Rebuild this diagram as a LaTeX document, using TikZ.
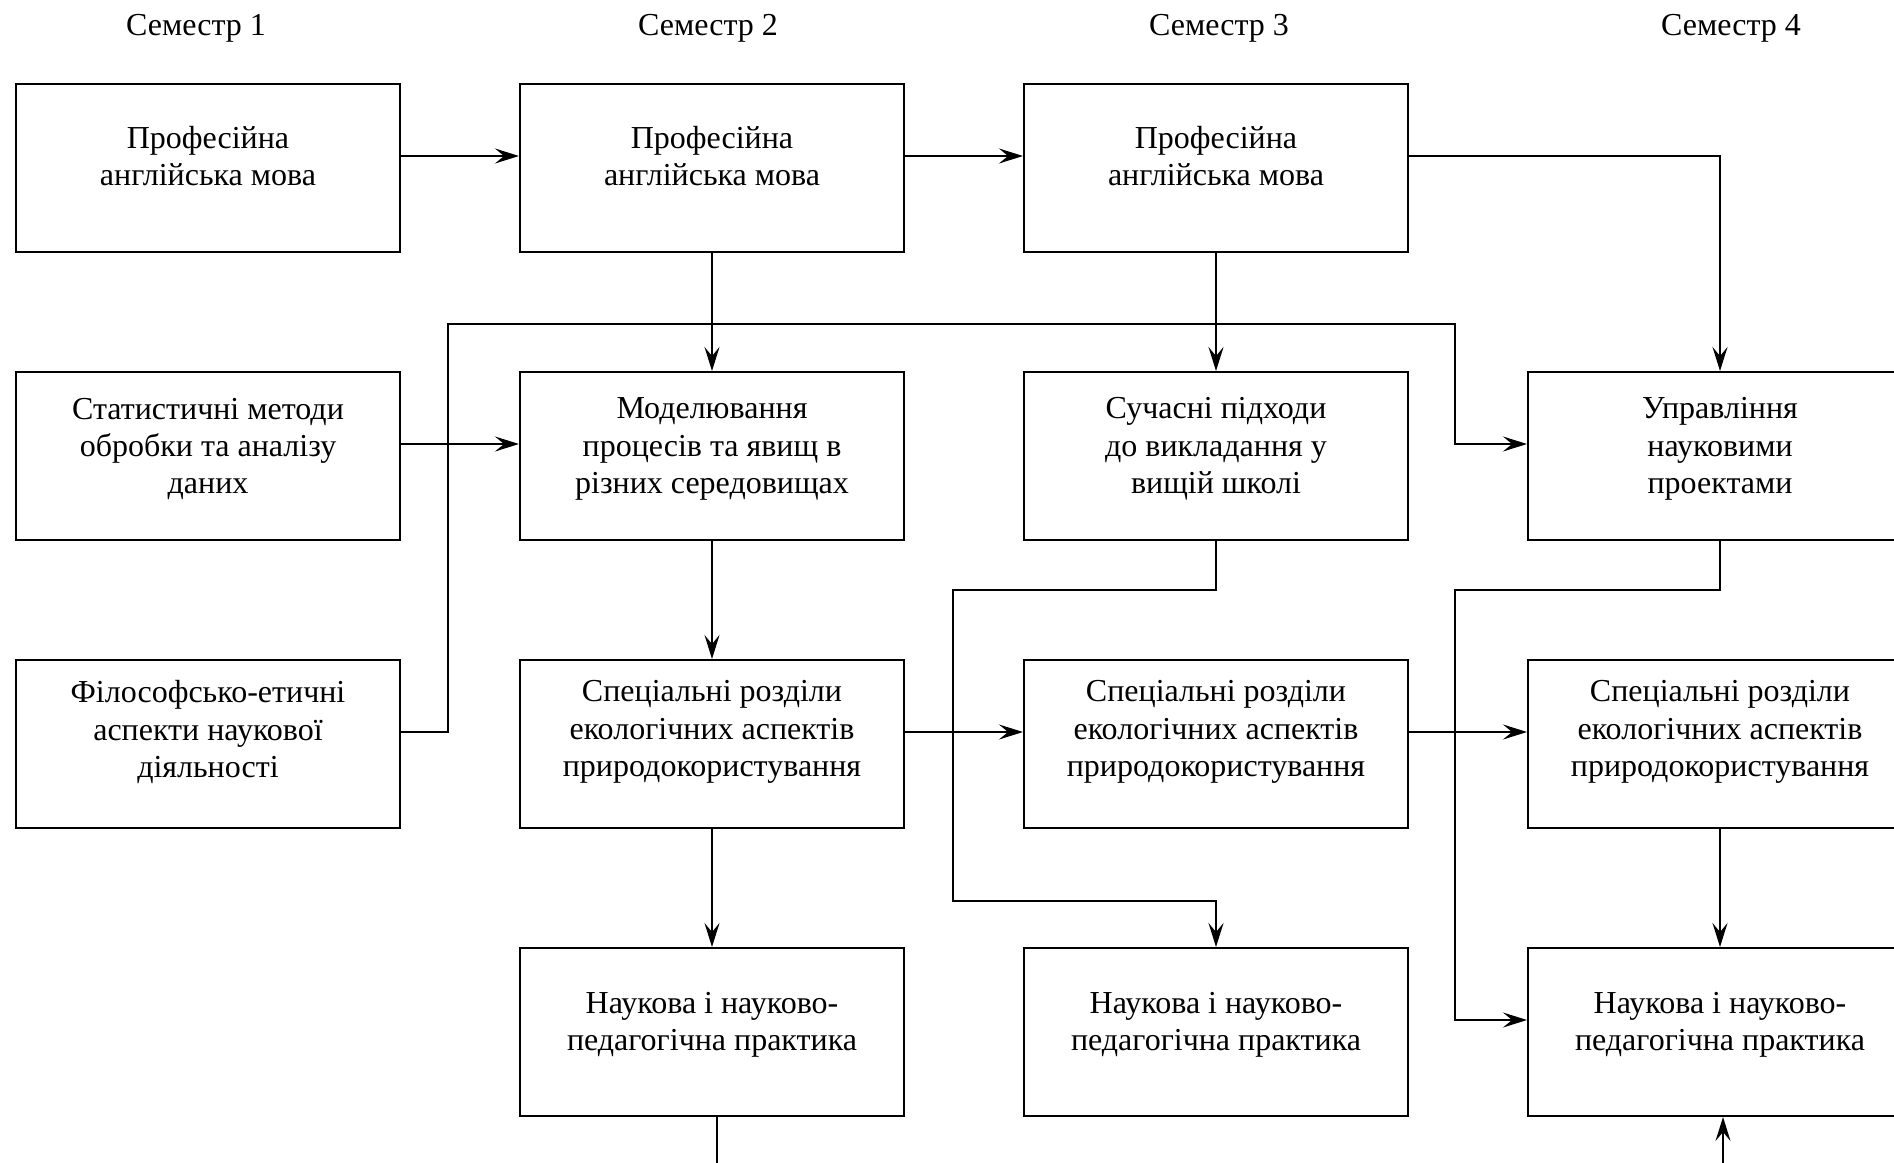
\documentclass[tikz,border=0pt]{standalone}
\usepackage{fontspec}
\setmainfont{Liberation Serif}
\usetikzlibrary{arrows.meta}

\tikzset{
  box/.style = {draw, line width=1pt, minimum width=192pt, minimum height=84pt, inner sep=0pt},
  txt/.style = {align=center, yshift=#1, inner sep=0pt},
  txt/.default = 6pt,
  arr/.style = {line width=1pt, -{Stealth[length=12pt, width=7.5pt, inset=4.5pt]}},
  wire/.style = {line width=1pt}
}

\begin{document}
\begin{tikzpicture}[x = 0.5pt, y = -0.5pt, font=\fontsize{16}{18.7}\selectfont]
\clip (0,0) rectangle (1894,1162);

% semesters
\node (s1) at (196,28) {Семестр 1};
\node (s2) at (708,28) {Семестр 2};
\node (s3) at (1219,28) {Семестр 3};
\node (s4) at (1731,28) {Семестр 4};

% row 1
\node[box, label={[txt]center:Професійна\\англійська мова}] (en1) at (208,168) {};
\node[box, label={[txt]center:Професійна\\англійська мова}] (en2) at (712,168) {};
\node[box, label={[txt]center:Професійна\\англійська мова}] (en3) at (1216,168) {};

% row 2
\node[box, label={[txt=3.5pt]center:Статистичні методи\\обробки та аналізу\\даних}] (stat) at (208,456) {};
\node[box, label={[txt=3.5pt]center:Моделювання\\процесів та явищ в\\різних середовищах}] (model) at (712,456) {};
\node[box, label={[txt=3.5pt]center:Сучасні підходи\\до викладання у\\вищій школі}] (teach) at (1216,456) {};
\node[box, label={[txt=3.5pt]center:Управління\\науковими\\проектами}] (manage) at (1720,456) {};

% row 3
\node[box, label={[txt]center:Філософсько-етичні\\аспекти наукової\\діяльності}] (phil) at (208,744) {};
\node[box, label={[txt]center:Спеціальні розділи\\екологічних аспектів\\природокористування}] (eco2) at (712,744) {};
\node[box, label={[txt]center:Спеціальні розділи\\екологічних аспектів\\природокористування}] (eco3) at (1216,744) {};
\node[box, label={[txt]center:Спеціальні розділи\\екологічних аспектів\\природокористування}] (eco4) at (1720,744) {};

% row 4
\node[box, label={[txt=3.5pt]center:Наукова і науково-\\педагогічна практика}] (prac2) at (712,1032) {};
\node[box, label={[txt=3.5pt]center:Наукова і науково-\\педагогічна практика}] (prac3) at (1216,1032) {};
\node[box, label={[txt=3.5pt]center:Наукова і науково-\\педагогічна практика}] (prac4) at (1720,1032) {};

% bends
\coordinate (b1) at (448,324);
\coordinate (b2) at (1455,324);
\coordinate (c1) at (953,590);
\coordinate (c2) at (953,901);
\coordinate (d1) at (1455,590);
\coordinate (out2) at (717,1200);
\coordinate (in4) at (1723,1200);

\draw[arr] ([yshift=6pt]en1.east) -- ([yshift=6pt]en2.west);
\draw[arr] ([yshift=6pt]en2.east) -- ([yshift=6pt]en3.west);
\draw[arr] ([yshift=6pt]en3.east) -| (manage.north);
\draw[arr] (en2.south) -- (model.north);
\draw[arr] (en3.south) -- (teach.north);
\draw[arr] ([yshift=6pt]stat.east) -- ([yshift=6pt]model.west);
\draw[arr] ([yshift=6pt]phil.east) -| (b1) -- (b2) |- ([yshift=6pt]manage.west);
\draw[arr] (model.south) -- (eco2.north);
\draw[arr] ([yshift=6pt]eco2.east) -- ([yshift=6pt]eco3.west);
\draw[arr] ([yshift=6pt]eco3.east) -- ([yshift=6pt]eco4.west);
\draw[arr] (eco2.south) -- (prac2.north);
\draw[arr] (eco4.south) -- (prac4.north);
\draw[arr] (teach.south) |- (c1) -- (c2) -| (prac3.north);
\draw[arr] (manage.south) |- (d1) |- ([yshift=6pt]prac4.west);
\draw[wire] (out2 |- prac2.south) -- (out2);
\draw[arr] (in4) -- (in4 |- prac4.south);
\end{tikzpicture}
\end{document}
